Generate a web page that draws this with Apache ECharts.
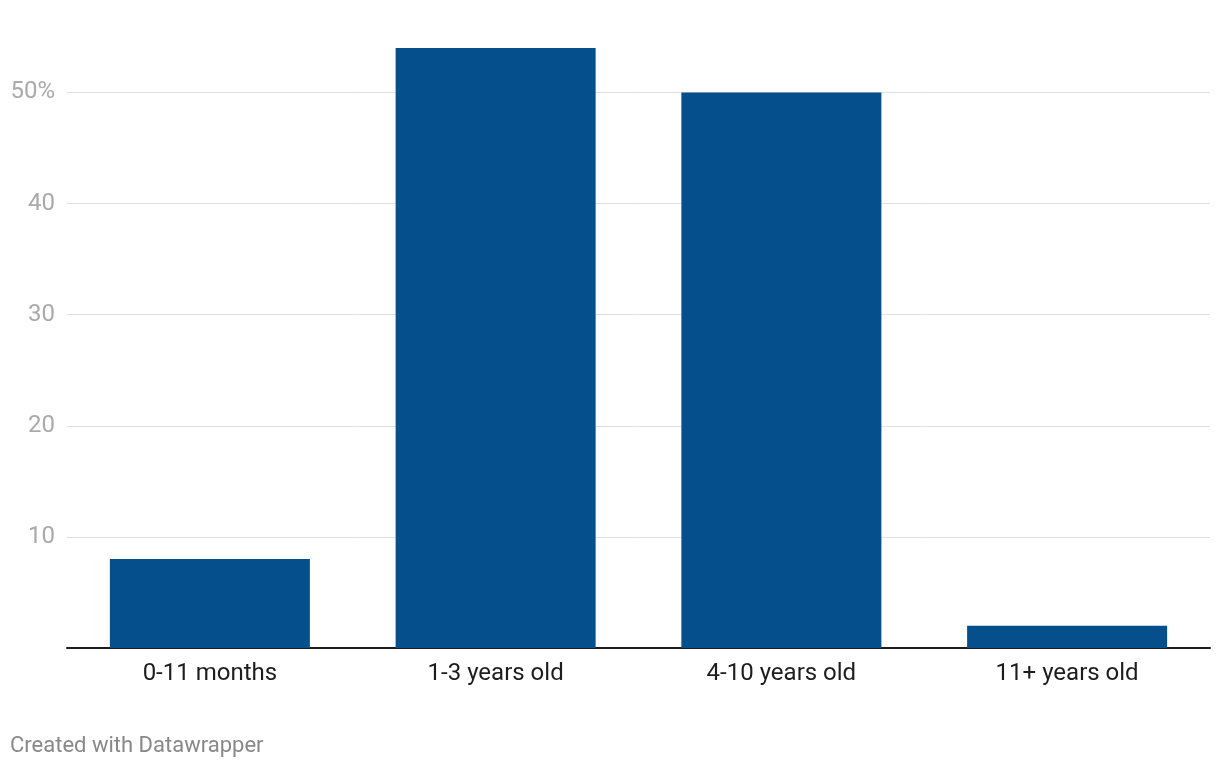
<!DOCTYPE html>
<html>
<head>
<meta charset="utf-8">
<script src="https://cdn.jsdelivr.net/npm/echarts@6/dist/echarts.min.js"></script>
<style>
html,body{margin:0;padding:0;background:#fff;}
#c{width:1220px;height:768px;}
</style>
</head>
<body>
<div id="c"></div>
<script>
const categories = ["0-11 months", "1-3 years old", "4-10 years old", "11+ years old"];
const values = [8, 54, 50, 2];
const footer = "Created with Datawrapper";

const chart = echarts.init(document.getElementById('c'), null, {renderer: 'canvas'});
chart.setOption({
  animation: false,
  backgroundColor: '#ffffff',
  textStyle: {fontFamily: 'Roboto'},
  grid: {left: 67, right: 10, top: 48, bottom: 120, containLabel: false},
  graphic: [{
    type: 'text', left: 10, top: 735,
    style: {text: footer, fill: '#888888', font: '22px Roboto'}
  }],
  xAxis: {
    type: 'category',
    data: categories,
    axisLine: {show: true, lineStyle: {color: '#1d1d1d', width: 2}},
    axisTick: {show: false},
    axisLabel: {color: '#1d1d1d', fontSize: 24, fontFamily: 'Roboto', margin: 14}
  },
  yAxis: {
    type: 'value',
    min: 0, max: 54, interval: 10,
    axisLine: {show: false},
    axisTick: {show: false},
    splitLine: {lineStyle: {
      color: ['#e0e0e0', '#e0e0e0', '#e0e0e0', '#e0e0e0', '#e0e0e0', '#e0e0e0', 'rgba(0,0,0,0)'],
      width: 1
    }},
    axisLabel: {
      color: '#aaaaaa', fontSize: 24, fontFamily: 'Roboto', margin: 12,
      padding: [8, 0, 0, 0],
      showMinLabel: false, showMaxLabel: false,
      formatter: function (v) { return v === 50 ? v + '%' : String(v); }
    }
  },
  series: [{
    type: 'bar',
    data: values,
    barWidth: '70%',
    itemStyle: {color: '#054f8d'}
  }]
});
</script>
</body>
</html>
